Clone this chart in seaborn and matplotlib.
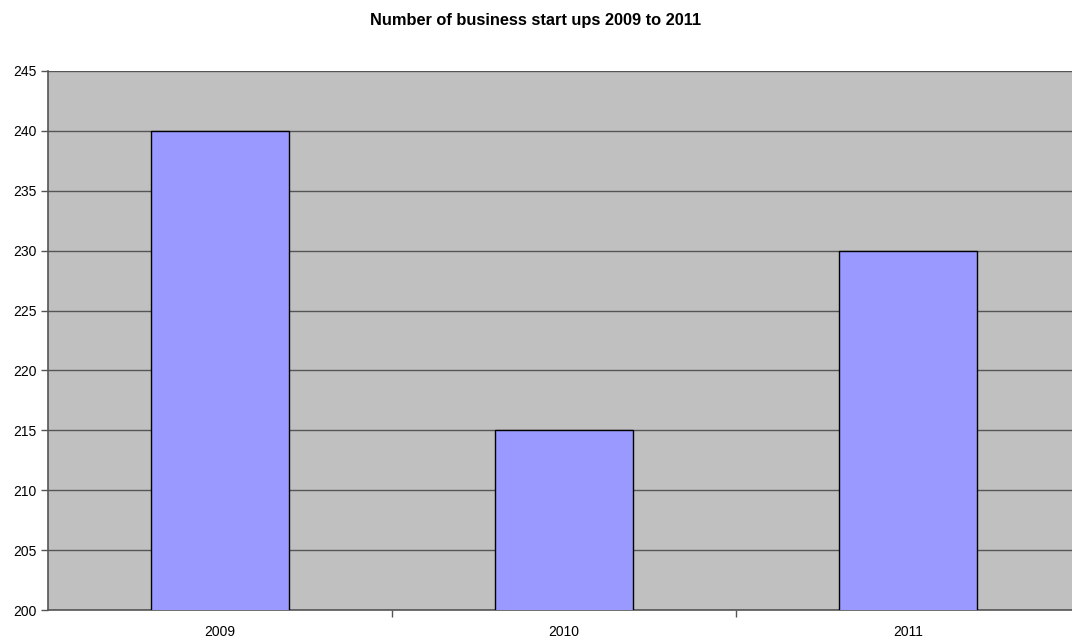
import pandas as pd
import seaborn as sns
import matplotlib.pyplot as plt
from matplotlib.ticker import FixedLocator

years = ["2009", "2010", "2011"]
startups = [240, 215, 230]

sns.set_style("white")
plt.rcParams['font.family'] = ['Liberation Sans', 'DejaVu Sans']

df = pd.DataFrame({"year": years, "startups": startups})

fig = plt.figure(figsize=(10.72, 6.4), dpi=100)
ax = fig.add_axes([48 / 1072, 1 - 610 / 640, 1032 / 1072, 539 / 640])
ax.set_facecolor("#C0C0C0")

sns.barplot(x="year", y="startups", data=df, color="#9999FF", width=0.4,
            edgecolor="black", linewidth=1.0, saturation=1, ax=ax, zorder=3)

ax.set_ylim(200, 245)
ax.set_xlim(-0.5, 2.5)
ax.set_yticks(range(200, 246, 5))
ax.yaxis.grid(True, color="#555555", linewidth=1.0)
ax.set_axisbelow(True)
for b in ax.patches:
    b.set_zorder(3)

ax.xaxis.set_major_locator(FixedLocator([0, 1, 2]))
ax.set_xticklabels(years)
ax.xaxis.set_minor_locator(FixedLocator([0.5, 1.5]))
ax.tick_params(axis="x", which="major", bottom=True, length=0, pad=11,
               labelsize=10, labelcolor="black")
ax.tick_params(axis="x", which="minor", bottom=True, length=5, width=1,
               color="#555555", direction="out")
ax.tick_params(axis="y", left=True, length=5, width=1, color="#555555",
               direction="out", labelsize=10, labelcolor="black", pad=3)

for side in ["top", "right"]:
    ax.spines[side].set_visible(False)
for side in ["left", "bottom"]:
    ax.spines[side].set_color("#555555")
    ax.spines[side].set_linewidth(1.2)

ax.set_xlabel("")
ax.set_ylabel("")
fig.text(0.5, 1 - 20 / 640, "Number of business start ups 2009 to 2011",
         ha="center", va="center", fontsize=11.8, fontweight="bold", color="black")

plt.savefig("out.png", dpi=100)
